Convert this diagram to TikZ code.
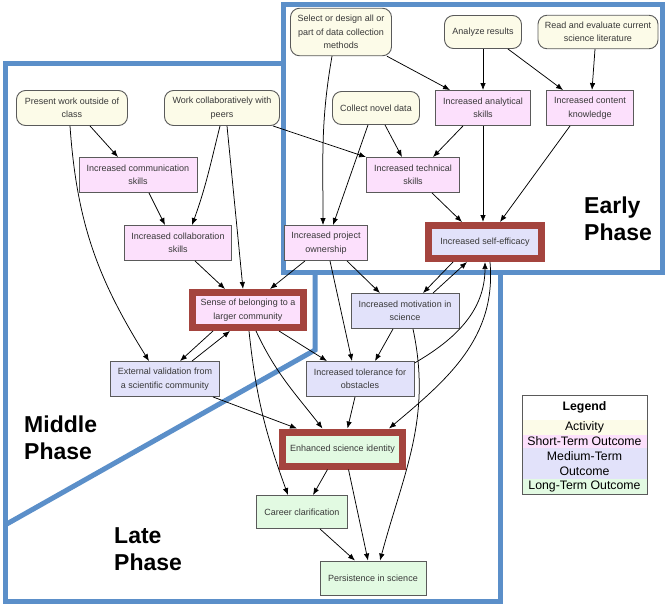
\documentclass[tikz,border=0pt]{standalone}
\usepackage{fontspec}
\setmainfont{Liberation Sans}
\usetikzlibrary{arrows.meta}

\definecolor{actfill}{HTML}{FCFBE8}
\definecolor{shortfill}{HTML}{FCE0FC}
\definecolor{medfill}{HTML}{E2E2FA}
\definecolor{longfill}{HTML}{E2FAE2}
\definecolor{keyred}{HTML}{A4443E}
\definecolor{phaseblue}{HTML}{5B8FC9}
\definecolor{boxgray}{HTML}{5A5A5A}
\definecolor{txtgray}{HTML}{383838}

\tikzset{
  box/.style={draw=boxgray, line width=0.9pt, align=center, text=txtgray,
    font=\fontsize{9}{13.5}\selectfont, inner sep=1pt},
  activity/.style={box, fill=actfill, rounded corners=9pt},
  shortterm/.style={box, fill=shortfill},
  medterm/.style={box, fill=medfill},
  longterm/.style={box, fill=longfill},
  keybox/.style={draw=keyred, line width=7pt},
  phase/.style={draw=phaseblue, line width=5pt},
  phaselabel/.style={font=\fontsize{23}{27}\selectfont\bfseries, align=left,
    anchor=north west, inner sep=0pt},
  legrow/.style={minimum width=124pt, inner sep=0pt, align=center,
    font=\fontsize{12.3}{15}\selectfont},
  flow/.style={->, line width=0.75pt},
  >={Latex[length=7pt,width=5.5pt]}
}

\begin{document}
\begin{tikzpicture}[x=1pt, y=-1pt]
  \useasboundingbox (0,0) rectangle (667,608);

  \draw[phase] (283,4) rectangle (662,272);
  \draw[phase] (283,63) -- (5,63) -- (5,601) -- (500,601) -- (500,272);
  \draw[phase] (315,272) -- (315,350) -- (5,525);

  \node[phaselabel] (early) at (584,196.5) {Early\\Phase};
  \node[phaselabel] (middle) at (24,416) {Middle\\Phase};
  \node[phaselabel] (late) at (114,527.5) {Late\\Phase};

  \node[activity, minimum width=101pt, minimum height=47.5pt] (sel) at (341,32) {Select or design all or\\part of data collection\\methods};
  \node[activity, minimum width=77pt, minimum height=33pt] (ana) at (483,32) {Analyze results};
  \node[activity, minimum width=120pt, minimum height=33.5pt] (rea) at (598,32) {Read and evaluate current\\science literature};
  \node[activity, minimum width=111pt, minimum height=35pt] (pre) at (72,108) {Present work outside of\\class};
  \node[activity, minimum width=115pt, minimum height=35pt] (wor) at (222,108) {Work collaboratively with\\peers};
  \node[activity, minimum width=87pt, minimum height=33pt] (col) at (376,108) {Collect novel data};

  \node[shortterm, minimum width=95pt, minimum height=35pt] (anaSk) at (483,108) {Increased analytical\\skills};
  \node[shortterm, minimum width=87pt, minimum height=35pt] (con) at (590,108) {Increased content\\knowledge};
  \node[shortterm, minimum width=118pt, minimum height=35pt] (com) at (138,175) {Increased communication\\skills};
  \node[shortterm, minimum width=93pt, minimum height=35pt] (tec) at (413,175) {Increased technical\\skills};
  \node[shortterm, minimum width=107pt, minimum height=35pt] (clb) at (178,243) {Increased collaboration\\skills};
  \node[shortterm, minimum width=83pt, minimum height=35pt] (own) at (326,243) {Increased project\\ownership};
  \node[shortterm, keybox, minimum width=111pt, minimum height=35pt] (bel) at (248,310) {Sense of belonging to a\\larger community};

  \node[medterm, keybox, minimum width=113pt, minimum height=33pt] (eff) at (485,242) {Increased self-efficacy};
  \node[medterm, minimum width=108pt, minimum height=35pt] (mot) at (405,311) {Increased motivation in\\science};
  \node[medterm, minimum width=109pt, minimum height=35pt] (ext) at (165,379) {External validation from\\a scientific community};
  \node[medterm, minimum width=108pt, minimum height=35pt] (tol) at (360,379) {Increased tolerance for\\obstacles};

  \node[longterm, keybox, minimum width=120pt, minimum height=34pt] (ide) at (342.5,449) {Enhanced science identity};
  \node[longterm, minimum width=91pt, minimum height=33pt] (car) at (302,512) {Career clarification};
  \node[longterm, minimum width=106pt, minimum height=34pt] (per) at (373,578) {Persistence in science};

  \draw[flow] ([xshift=-5pt]sel.south east) -- ([xshift=15pt]anaSk.north west);
  \draw[flow] ([xshift=-9pt]sel.south) to[out=-100, in=90] ([xshift=-3pt]own.north);
  \draw[flow] (ana.south) -- (anaSk.north);
  \draw[flow] ([xshift=-14pt]ana.south east) -- ([xshift=17pt]con.north west);
  \draw[flow] ([xshift=-3pt]rea.south) -- ([xshift=2pt]con.north);
  \draw[flow] ([xshift=18pt]pre.south) -- ([xshift=-20pt]com.north);
  \draw[flow] ([xshift=-2pt]pre.south) to[out=-86, in=122] ([xshift=-16pt]ext.north);
  \draw[flow] ([xshift=-2pt]wor.south) to[out=-104, in=70] ([xshift=14pt]clb.north);
  \draw[flow] ([xshift=5pt]wor.south) -- ([xshift=-5pt]bel.north);
  \draw[flow] ([xshift=-7pt]wor.south east) -- (tec.north west);
  \draw[flow] ([xshift=9pt]col.south) -- ([xshift=-11pt]tec.north);
  \draw[flow] ([xshift=-8pt]col.south) -- ([xshift=7pt]own.north);
  \draw[flow] ([xshift=-20pt]anaSk.south) -- ([xshift=20pt]tec.north);
  \draw[flow] (anaSk.south) -- ([xshift=-2pt]eff.north);
  \draw[flow] ([xshift=-20pt]con.south) -- ([xshift=15pt]eff.north);
  \draw[flow] ([xshift=19pt]tec.south) -- ([xshift=-23pt]eff.north);
  \draw[flow] ([xshift=11pt]com.south) -- ([xshift=-13pt]clb.north);
  \draw[flow] ([xshift=17pt]clb.south) -- ([xshift=-23pt]bel.north);
  \draw[flow] ([xshift=-21pt]own.south) -- ([xshift=22pt]bel.north);
  \draw[flow] ([xshift=21pt]own.south) -- ([xshift=-25pt]mot.north);
  \draw[flow] ([xshift=4pt]own.south) -- ([xshift=-8pt]tol.north);
  \draw[flow] ([xshift=-32pt]eff.south) -- ([xshift=18pt]mot.north);
  \draw[flow] ([xshift=28pt]mot.north) -- ([xshift=-18pt]eff.south);
  \draw[flow] ([yshift=-2pt]tol.north east) to[out=30, in=-90] (eff.south);
  \draw[flow] ([xshift=5pt]eff.south) to[out=-85, in=40] ([xshift=-17pt]ide.north east);
  \draw[flow] ([xshift=-35pt]bel.south) -- ([xshift=15pt]ext.north);
  \draw[flow] ([xshift=27pt]ext.north) -- ([xshift=-18pt]bel.south);
  \draw[flow] ([xshift=31pt]bel.south) -- ([xshift=-33pt]tol.north);
  \draw[flow] ([xshift=8pt]bel.south) to[out=-65, in=128] ([xshift=-20pt]ide.north);
  \draw[flow] ([xshift=1pt]bel.south) to[out=-84, in=110] ([xshift=-14pt]car.north);
  \draw[flow] ([xshift=48pt]ext.south) -- ([xshift=18pt]ide.north west);
  \draw[flow] ([xshift=-12pt]mot.south) -- ([xshift=15pt]tol.north);
  \draw[flow] ([xshift=8pt]mot.south) to[out=-78, in=75] ([xshift=7pt]per.north);
  \draw[flow] ([xshift=-5pt]tol.south) -- ([xshift=5pt]ide.north);
  \draw[flow] ([xshift=-15pt]ide.south) -- ([xshift=11pt]car.north);
  \draw[flow] ([xshift=6pt]ide.south) -- ([xshift=-5pt]per.north);
  \draw[flow] ([xshift=18pt]car.south) -- ([xshift=-18pt]per.north);

  \node[legrow, font=\fontsize{12.3}{15}\selectfont\bfseries, minimum height=25pt] (legTitle) at (584.5,407.5) {Legend};
  \node[legrow, fill=actfill, minimum height=14.5pt] (legAct) at (584.5,427.25) {Activity};
  \node[legrow, fill=shortfill, minimum height=13.5pt] (legShort) at (584.5,441.25) {Short-Term Outcome};
  \node[legrow, fill=medfill, minimum height=31pt] (legMed) at (584.5,463.5) {Medium-Term\\Outcome};
  \node[legrow, fill=longfill, minimum height=14.5pt] (legLong) at (584.5,486.25) {Long-Term Outcome};
  \draw[draw=boxgray, line width=0.9pt] (522,395) rectangle (647,494);
\end{tikzpicture}
\end{document}
